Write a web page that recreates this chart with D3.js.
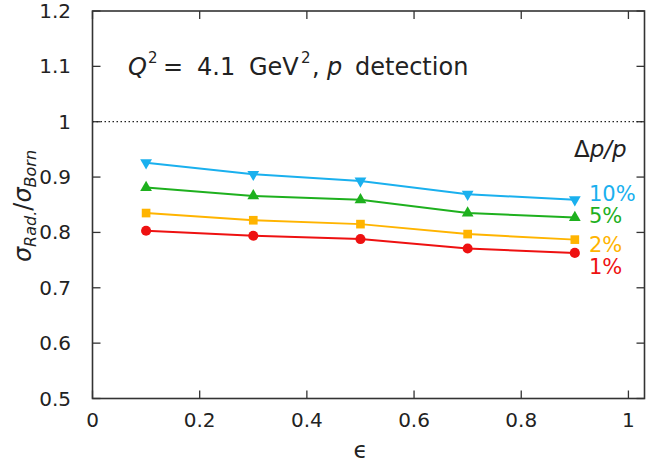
<!DOCTYPE html>
<html><head><meta charset="utf-8">
<script src="https://cdn.jsdelivr.net/npm/d3@7"></script>
<style>body{margin:0;background:#fff}svg{display:block;font-family:"DejaVu Sans",sans-serif}</style>
</head><body><svg id="c" width="647" height="471"></svg>
<script>
const epsilon = [0.1, 0.3, 0.5, 0.7, 0.9];
const res10 = [0.926, 0.905, 0.893, 0.869, 0.859];
const res5  = [0.881, 0.866, 0.859, 0.835, 0.827];
const res2  = [0.835, 0.822, 0.815, 0.797, 0.787];
const res1  = [0.803, 0.794, 0.788, 0.771, 0.763];
const seriesNames = ["10%", "5%", "2%", "1%"];
const xTicks = [0, 0.2, 0.4, 0.6, 0.8, 1];
const yTicks = [0.5, 0.6, 0.7, 0.8, 0.9, 1, 1.1, 1.2];

const series = [
  {name: seriesNames[0], vals: res10, color: "#1ab0ee", sym: d3.symbolTriangle, rot: 180, lab: 201},
  {name: seriesNames[1], vals: res5,  color: "#1eb01e", sym: d3.symbolTriangle, rot: 0, lab: 223},
  {name: seriesNames[2], vals: res2,  color: "#ffb400", sym: d3.symbolSquare, rot: 0, lab: 252},
  {name: seriesNames[3], vals: res1,  color: "#ee1111", sym: d3.symbolCircle, rot: 0, lab: 274}
];

const svg = d3.select("#c");
const x = d3.scaleLinear().domain([0, 1.03]).range([92.5, 644.5]);
const y = d3.scaleLinear().domain([0.5, 1.2]).range([398.5, 11]);
const axisCol = "#333";
const tl = 8;

// ticks (inward, mirrored)
const g = svg.append("g").attr("stroke", axisCol).attr("stroke-width", 1.3);
xTicks.forEach(t => {
  g.append("line").attr("x1", x(t)).attr("x2", x(t)).attr("y1", y(0.5)).attr("y2", y(0.5) - tl);
  g.append("line").attr("x1", x(t)).attr("x2", x(t)).attr("y1", y(1.2)).attr("y2", y(1.2) + tl);
});
yTicks.forEach(t => {
  g.append("line").attr("x1", x(0)).attr("x2", x(0) + tl).attr("y1", y(t)).attr("y2", y(t));
  g.append("line").attr("x1", x(1.03)).attr("x2", x(1.03) - tl).attr("y1", y(t)).attr("y2", y(t));
});

// dotted line at 1
svg.append("line").attr("x1", x(0)).attr("x2", x(1.03)).attr("y1", y(1)).attr("y2", y(1))
  .attr("stroke", "#222").attr("stroke-width", 1.3).attr("stroke-dasharray", "1.5,2.5");

// frame
svg.append("rect").attr("x", x(0)).attr("y", y(1.2)).attr("width", x(1.03) - x(0)).attr("height", y(0.5) - y(1.2))
  .attr("fill", "none").attr("stroke", axisCol).attr("stroke-width", 1.6);

// tick labels
svg.append("g").selectAll("text").data(xTicks).join("text")
  .attr("x", d => x(d)).attr("y", 427).attr("text-anchor", "middle")
  .attr("font-size", 20).attr("fill", "#222").text(d => d3.format("~g")(d));
svg.append("g").selectAll("text").data(yTicks).join("text")
  .attr("x", 71).attr("y", d => y(d) + 7).attr("text-anchor", "end")
  .attr("font-size", 20).attr("fill", "#222").text(d => d3.format("~g")(d));

// axis labels
svg.append("text").attr("x", x(0.5)).attr("y", 458).attr("text-anchor", "middle")
  .attr("font-size", 23).attr("fill", "#222").text("ϵ");
const yl = svg.append("text").attr("transform", "translate(31,206) rotate(-90)")
  .attr("text-anchor", "middle").attr("font-size", 24).attr("fill", "#222");
yl.append("tspan").attr("font-style", "italic").text("σ");
yl.append("tspan").attr("font-size", 16).attr("font-style", "italic").attr("dy", 5).text("Rad.");
yl.append("tspan").attr("dy", -5).text("/");
yl.append("tspan").attr("font-style", "italic").text("σ");
yl.append("tspan").attr("font-size", 16).attr("font-style", "italic").attr("dy", 5).text("Born");

// title pieces
const tg = svg.append("g").attr("font-size", 24).attr("fill", "#222");
const tt = (xp, str, opts = {}) => {
  const e = tg.append("text").attr("x", xp).attr("y", opts.y || 75).text(str);
  if (opts.italic) e.attr("font-style", "italic");
  if (opts.size) e.attr("font-size", opts.size);
  return e;
};
tt(128, "Q", {italic: true});
tt(148, "2", {size: 15, y: 63});
tt(163, "=");
tt(197, "4.1");
tt(249, "GeV");
tt(301, "2", {size: 15, y: 63});
tt(312, ",");
tt(327, "p", {italic: true});
tt(355, "detection");

// legend header
const lh = svg.append("text").attr("x", 574).attr("y", 157).attr("font-size", 23).attr("fill", "#222");
lh.append("tspan").text("Δ");
lh.append("tspan").attr("font-style", "italic").text("p/p");

// series
const line = d3.line().x((d, i) => x(epsilon[i])).y(d => y(d));
series.forEach(s => {
  svg.append("path").attr("d", line(s.vals)).attr("fill", "none").attr("stroke", s.color).attr("stroke-width", 2);
  svg.append("g").selectAll("path").data(s.vals).join("path")
    .attr("d", d3.symbol().type(s.sym).size(s.sym === d3.symbolCircle ? 80 : (s.sym === d3.symbolSquare ? 75 : 60)))
    .attr("transform", (d, i) => `translate(${x(epsilon[i])},${y(d)}) rotate(${s.rot})`)
    .attr("fill", s.color);
  svg.append("text").attr("x", 589).attr("y", s.lab).attr("font-size", 21).attr("fill", s.color).text(s.name);
});
</script></body></html>
